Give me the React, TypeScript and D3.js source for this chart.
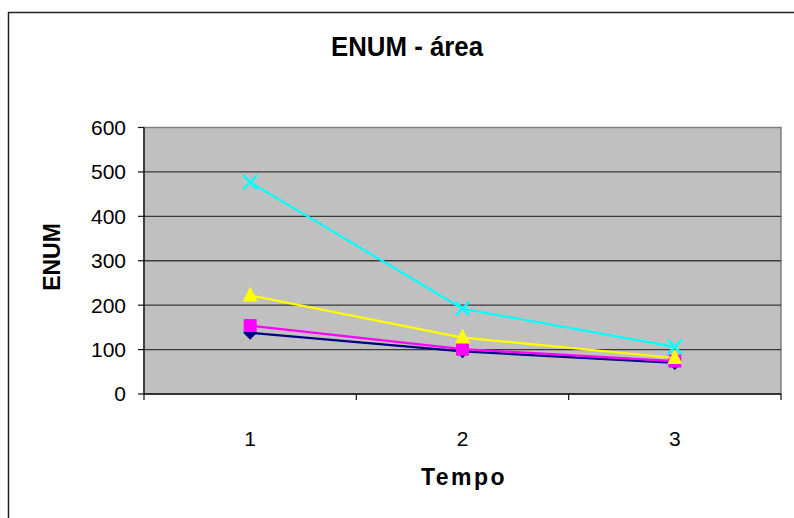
import React from 'react';
import * as d3 from 'd3';

const categories = ['1', '2', '3'];
const yTicks = [0, 100, 200, 300, 400, 500, 600];

const navySeries = [138, 96, 70];
const magentaSeries = [154, 101, 74];
const yellowSeries = [222, 127, 81];
const cyanSeries = [477, 192, 106];

const W = 794;
const H = 518;
const plot = { left: 144, right: 781, top: 127.5, bottom: 394 };
const font = '"Liberation Sans", Arial, sans-serif';

const x = d3.scaleBand<string>().domain(categories).range([plot.left, plot.right]);
const y = d3.scaleLinear().domain([0, 600]).range([plot.bottom, plot.top]);
const cx = (c: string) => (x(c) ?? 0) + x.bandwidth() / 2;

const lineGen = d3
  .line<number>()
  .x((_, i) => cx(categories[i]))
  .y(d => y(d));

const series = [
  { values: navySeries, color: '#000080', marker: 'diamond' },
  { values: magentaSeries, color: '#FF00FF', marker: 'square' },
  { values: yellowSeries, color: '#FFFF00', marker: 'triangle' },
  { values: cyanSeries, color: '#00FFFF', marker: 'x' },
];

const Marker = ({ kind, color, px, py }: { kind: string; color: string; px: number; py: number }) => {
  if (kind === 'diamond') {
    const s = 7;
    return <path d={`M${px},${py - s}L${px + s},${py}L${px},${py + s}L${px - s},${py}Z`} fill={color} />;
  }
  if (kind === 'square') {
    return <rect x={px - 6.5} y={py - 6.5} width={13} height={13} fill={color} />;
  }
  if (kind === 'triangle') {
    return <path d={`M${px},${py - 9}L${px + 7.5},${py + 6}L${px - 7.5},${py + 6}Z`} fill={color} />;
  }
  const s = 7;
  return (
    <path
      d={`M${px - s},${py - s}L${px + s},${py + s}M${px + s},${py - s}L${px - s},${py + s}`}
      stroke={color}
      strokeWidth={2.5}
      fill="none"
    />
  );
};

export default function App() {
  return (
    <svg width={W} height={H} style={{ position: 'absolute', left: 0, top: 0, background: '#fff' }} fontFamily={font}>
      {/* outer chart border, runs off the right and bottom */}
      <rect x={8.5} y={12.5} width={W} height={H} fill="#fff" stroke="#222" strokeWidth={1.5} />

      <text x={407} y={56} textAnchor="middle" fontSize={28} fontWeight="bold" textLength={152} lengthAdjust="spacingAndGlyphs">
        ENUM - área
      </text>

      {/* plot area */}
      <rect
        x={plot.left}
        y={plot.top}
        width={plot.right - plot.left}
        height={plot.bottom - plot.top}
        fill="#C0C0C0"
        stroke="#808080"
        strokeWidth={1.5}
      />
      {yTicks.slice(1, -1).map(t => (
        <line key={t} x1={plot.left} x2={plot.right} y1={y(t)} y2={y(t)} stroke="#3a3a3a" strokeWidth={1.4} />
      ))}
      <line x1={plot.left} x2={plot.left} y1={plot.top} y2={plot.bottom} stroke="#111" strokeWidth={1.3} />
      <line x1={plot.left} x2={plot.right} y1={plot.bottom} y2={plot.bottom} stroke="#111" strokeWidth={1.3} />

      {/* y axis */}
      {yTicks.map(t => (
        <g key={t}>
          <line x1={plot.left - 6} x2={plot.left} y1={y(t)} y2={y(t)} stroke="#111" strokeWidth={1.2} />
          <text x={126} y={y(t)} dy="0.35em" textAnchor="end" fontSize={21}>
            {t}
          </text>
        </g>
      ))}
      <text transform={`translate(52,257) rotate(-90)`} textAnchor="middle" fontSize={23} fontWeight="bold" dy="0.35em">
        ENUM
      </text>

      {/* x axis */}
      {[...categories.map(c => x(c) ?? 0), plot.right].map((v, i) => (
        <line key={i} x1={v} x2={v} y1={plot.bottom} y2={plot.bottom + 6} stroke="#111" strokeWidth={1.2} />
      ))}
      {categories.map(c => (
        <text key={c} x={cx(c)} y={446} textAnchor="middle" fontSize={21}>
          {c}
        </text>
      ))}
      <text x={464} y={485} textAnchor="middle" fontSize={23} fontWeight="bold" letterSpacing={2.5}>
        Tempo
      </text>

      {/* series */}
      {series.map((s, i) => (
        <g key={i}>
          <path d={lineGen(s.values) ?? ''} fill="none" stroke={s.color} strokeWidth={2.2} />
          {s.values.map((v, j) => (
            <Marker key={j} kind={s.marker} color={s.color} px={cx(categories[j])} py={y(v)} />
          ))}
        </g>
      ))}
    </svg>
  );
}
